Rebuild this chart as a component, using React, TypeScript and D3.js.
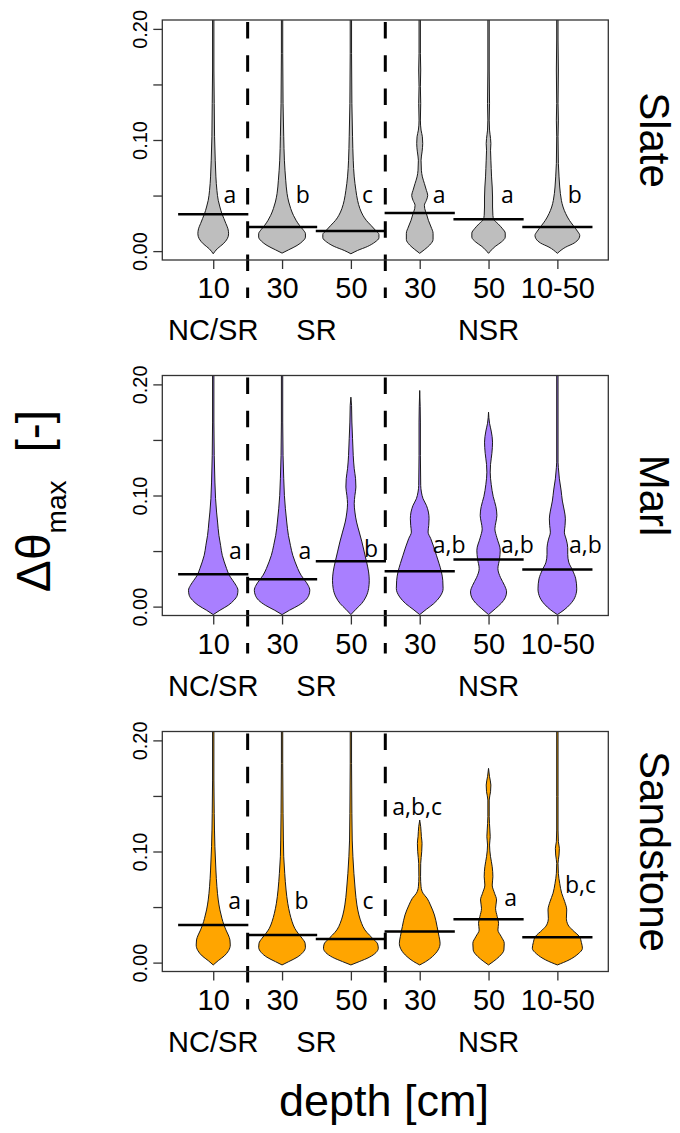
import React, { useEffect, useRef } from "react";
import * as d3 from "d3";

// categories along the x axis (depth) and their treatment groups
const depths = ["10", "30", "50", "30", "50", "10-50"];
const groups = ["NC/SR", "SR", "NSR"];
const groupPos = [1, 2.5, 5];
const dividers = [1.5, 3.5];

const yTicks = [0, 0.05, 0.1, 0.15, 0.2];
const yLabelled = [0, 0.1, 0.2];

const rocks = ["Slate", "Marl", "Sandstone"];
const rockColors = ["#bebebe", "#a97fff", "#ffa500"];

// medians per depth
const slateMedians = [0.0331, 0.0217, 0.018, 0.0343, 0.0286, 0.0217];
const marlMedians = [0.0291, 0.0246, 0.0408, 0.0318, 0.0423, 0.0333];
const sandstoneMedians = [0.0339, 0.0249, 0.0212, 0.0279, 0.0391, 0.0228];

// significance letters
const slateLetters = ["a", "b", "c", "a", "a", "b"];
const slateLetterY = [0.043, 0.043, 0.043, 0.043, 0.043, 0.043];
const slateLetterDx = [0.15, 0.2, 0.16, 0.19, 0.18, 0.15];
const marlLetters = ["a", "a", "b", "a,b", "a,b", "a,b"];
const marlLetterY = [0.043, 0.043, 0.045, 0.048, 0.048, 0.048];
const marlLetterDx = [0.23, 0.24, 0.19, 0.19, 0.18, 0.17];
const sandstoneLetters = ["a", "b", "c", "a,b,c", "a", "b,c"];
const sandstoneLetterY = [0.048, 0.048, 0.048, 0.133, 0.051, 0.063];
const sandstoneLetterDx = [0.22, 0.18, 0.17, -0.4, 0.23, 0.11];

// violin profiles: [value, density]
const slateViolins: number[][][] = [
  [[-0.0024, 0], [0.0021, 12], [0.0066, 30], [0.0111, 42], [0.0156, 46], [0.0201, 44], [0.0247, 38], [0.0292, 32], [0.0337, 26], [0.0397, 20], [0.0457, 15], [0.0547, 11], [0.0668, 8], [0.0818, 6], [0.1029, 4], [0.1329, 3], [0.163, 2], [0.22, 2]],
  [[-0.0018, 0], [0.0012, 20], [0.0051, 45], [0.009, 62], [0.0126, 70], [0.0156, 70], [0.0192, 63], [0.0232, 52], [0.0277, 42], [0.0322, 34], [0.0382, 26], [0.0442, 20], [0.0517, 15], [0.0638, 11], [0.0818, 7], [0.1029, 5], [0.1329, 3], [0.178, 2], [0.22, 2]],
  [[-0.0024, 0], [0.0006, 20], [0.0042, 50], [0.0081, 72], [0.012, 84], [0.015, 84], [0.0186, 74], [0.0232, 60], [0.0277, 46], [0.0322, 36], [0.0382, 27], [0.0457, 20], [0.0547, 15], [0.0668, 10], [0.0818, 7], [0.1029, 5], [0.1329, 3], [0.178, 2], [0.22, 2]],
  [[-0.002, 0], [0.0015, 15], [0.0055, 30], [0.0105, 40], [0.016, 40], [0.0217, 34], [0.0277, 26], [0.0337, 20], [0.0382, 15], [0.0412, 14], [0.0457, 20], [0.0502, 24], [0.0547, 20], [0.0608, 14], [0.0668, 8], [0.0728, 5], [0.0818, 4], [0.0893, 7], [0.0968, 9], [0.1029, 8], [0.1089, 4], [0.1179, 2], [0.1329, 3], [0.148, 2], [0.163, 3], [0.178, 2], [0.22, 2]],
  [[-0.002, 0], [0.0042, 20], [0.0081, 38], [0.0126, 50], [0.0162, 50], [0.0201, 42], [0.0247, 28], [0.0283, 16], [0.0322, 13], [0.0397, 12], [0.0487, 12], [0.0577, 11], [0.0668, 9], [0.0743, 8], [0.0818, 7], [0.0908, 6], [0.0968, 7], [0.1014, 6], [0.1089, 3], [0.1179, 2], [0.1329, 3], [0.163, 2], [0.22, 2]],
  [[-0.002, 0], [0.0036, 25], [0.0072, 50], [0.0111, 64], [0.0141, 67], [0.018, 60], [0.0232, 47], [0.0277, 36], [0.0337, 25], [0.0397, 17], [0.0457, 12], [0.0517, 9], [0.0577, 7], [0.0668, 5], [0.0788, 3], [0.1029, 2], [0.1179, 3], [0.1329, 2], [0.163, 3], [0.19, 2], [0.22, 2]],
];

const marlViolins: number[][][] = [
  [[-0.0072, 0], [-0.0033, 20], [0.0012, 45], [0.0057, 62], [0.0102, 72], [0.0147, 74], [0.0192, 68], [0.0237, 58], [0.0282, 48], [0.0342, 40], [0.0402, 33], [0.0462, 27], [0.0552, 22], [0.0641, 17], [0.0761, 13], [0.0851, 10], [0.0971, 7], [0.1121, 5], [0.1361, 3], [0.1661, 2], [0.22, 2]],
  [[-0.0072, 0], [-0.0033, 22], [0.0012, 50], [0.0057, 70], [0.0102, 80], [0.0147, 83], [0.0192, 78], [0.0237, 68], [0.0282, 57], [0.0342, 47], [0.0402, 39], [0.0462, 32], [0.0552, 25], [0.0641, 19], [0.0761, 14], [0.0881, 10], [0.1001, 7], [0.1151, 5], [0.1361, 3], [0.1661, 2], [0.22, 2]],
  [[-0.0072, 0], [-0.0024, 15], [0.0027, 32], [0.0087, 45], [0.0162, 53], [0.0237, 55], [0.0312, 53], [0.0402, 47], [0.0492, 40], [0.0582, 33], [0.0671, 25], [0.0761, 17], [0.0851, 12], [0.0926, 10], [0.1001, 12], [0.1076, 15], [0.1151, 14], [0.1241, 10], [0.1361, 7], [0.1511, 5], [0.1661, 3], [0.1811, 2], [0.1885, 0]],
  [[-0.0072, 0], [-0.0024, 20], [0.0027, 42], [0.0087, 60], [0.0162, 70], [0.0237, 69], [0.0312, 65], [0.0387, 58], [0.0462, 50], [0.0537, 42], [0.0612, 33], [0.0671, 25], [0.0731, 27], [0.0791, 28], [0.0851, 26], [0.0911, 20], [0.0971, 10], [0.1031, 5], [0.1091, 3], [0.1361, 2], [0.1661, 2], [0.1945, 0]],
  [[-0.0072, 0], [-0.002, 20], [0.003, 38], [0.008, 50], [0.0132, 54], [0.019, 48], [0.026, 36], [0.0342, 28], [0.043, 33], [0.0507, 35], [0.062, 25], [0.07, 19], [0.076, 22], [0.082, 25], [0.09, 22], [0.099, 14], [0.11, 8], [0.121, 5], [0.128, 6], [0.138, 10], [0.148, 12], [0.158, 8], [0.165, 3], [0.175, 0]],
  [[-0.0072, 0], [-0.003, 20], [0.002, 38], [0.008, 52], [0.016, 58], [0.025, 55], [0.033, 45], [0.04, 34], [0.047, 31], [0.053, 31], [0.06, 27], [0.067, 21], [0.073, 23], [0.079, 24], [0.086, 21], [0.095, 15], [0.105, 11], [0.115, 6], [0.125, 3], [0.13, 2], [0.22, 2]],
];

const sandstoneViolins: number[][][] = [
  [[-0.0021, 0], [0.0018, 15], [0.006, 33], [0.0108, 46], [0.0159, 51], [0.0204, 50], [0.0249, 45], [0.0294, 38], [0.0339, 32], [0.0399, 26], [0.0474, 20], [0.0564, 15], [0.0683, 11], [0.0833, 8], [0.1043, 5], [0.1343, 3], [0.1643, 2], [0.22, 2]],
  [[-0.0021, 0], [0.0009, 20], [0.0048, 45], [0.009, 62], [0.0138, 70], [0.0174, 69], [0.0219, 60], [0.0264, 48], [0.0309, 38], [0.0369, 30], [0.0444, 23], [0.0534, 17], [0.0653, 12], [0.0803, 8], [0.0953, 5], [0.1103, 4], [0.1343, 3], [0.1793, 2], [0.22, 2]],
  [[-0.0021, 0], [0.0009, 25], [0.0048, 55], [0.009, 75], [0.0129, 82], [0.0168, 80], [0.0204, 70], [0.0249, 55], [0.0294, 42], [0.0354, 32], [0.0429, 24], [0.0519, 18], [0.0653, 13], [0.0803, 9], [0.0953, 6], [0.1103, 4], [0.1343, 3], [0.1793, 2], [0.22, 2]],
  [[-0.0021, 0], [0.0009, 18], [0.0054, 38], [0.0114, 55], [0.0174, 61], [0.0234, 58], [0.0324, 52], [0.0429, 44], [0.0519, 32], [0.0579, 22], [0.0624, 10], [0.0683, 4], [0.0773, 2.5], [0.0893, 3], [0.0998, 6], [0.1073, 7], [0.1133, 5], [0.1223, 3], [0.1283, 0]],
  [[-0.0021, 0], [0.0009, 14], [0.0054, 32], [0.0114, 46], [0.0174, 47], [0.0234, 38], [0.0294, 28], [0.0354, 30], [0.0414, 26], [0.0489, 21], [0.0564, 24], [0.0624, 18], [0.0698, 11], [0.0773, 13], [0.0863, 11], [0.0953, 6], [0.1058, 3], [0.1133, 5], [0.1193, 4], [0.1313, 2], [0.1463, 2], [0.1538, 6], [0.1598, 7], [0.1673, 3], [0.1748, 0]],
  [[-0.0021, 0], [0.0024, 35], [0.0078, 62], [0.0129, 75], [0.018, 72], [0.0234, 66], [0.0294, 45], [0.0339, 32], [0.0399, 27], [0.0474, 28], [0.0549, 22], [0.0624, 13], [0.0713, 7], [0.0803, 3], [0.0893, 2], [0.0968, 5], [0.1028, 6], [0.1088, 3], [0.1193, 2], [0.1493, 2], [0.22, 2]],
];

const panels = [
  { violins: slateViolins, medians: slateMedians, letters: slateLetters, letterY: slateLetterY, letterDx: slateLetterDx },
  { violins: marlViolins, medians: marlMedians, letters: marlLetters, letterY: marlLetterY, letterDx: marlLetterDx },
  { violins: sandstoneViolins, medians: sandstoneMedians, letters: sandstoneLetters, letterY: sandstoneLetterY, letterDx: sandstoneLetterDx },
];

const App: React.FC = () => {
  const svgRef = useRef<SVGSVGElement | null>(null);

  useEffect(() => {
    const width = 680;
    const height = 1133;
    const left = 162.3;
    const right = 608.3;
    const panelTops = [20, 375.5, 731.5];
    const panelH = 240;
    const sans = "'Liberation Sans', Arial, Helvetica, sans-serif";

    const root = d3.select(svgRef.current).attr("width", width).attr("height", height);
    root.selectAll("*").remove();
    const svg = root.append("g");
    const defs = svg.append("defs");

    const x = d3.scaleLinear().domain([0.26, 6.74]).range([left, right]);
    // density -> half width in category units
    const dens = d3.scaleLinear().domain([0, 206]).range([0, 1]);

    panels.forEach((p, i) => {
      const top = panelTops[i];
      const bottom = top + panelH;
      const y = d3.scaleLinear().domain([-0.008, 0.208]).range([bottom, top]);

      defs.append("clipPath")
        .attr("id", `clip-${i}`)
        .append("rect")
        .attr("x", left)
        .attr("y", top)
        .attr("width", right - left)
        .attr("height", panelH);

      const g = svg.append("g");

      // violins
      const vg = g.append("g").attr("clip-path", `url(#clip-${i})`);
      p.violins.forEach((prof, j) => {
        const c = j + 1;
        const area = d3
          .area<number[]>()
          .y((d) => y(d[0]))
          .x0((d) => x(c - dens(d[1])))
          .x1((d) => x(c + dens(d[1])))
          .curve(d3.curveMonotoneY);
        vg.append("path")
          .datum(prof)
          .attr("d", area)
          .attr("fill", rockColors[i])
          .attr("stroke", "#1a1a1a")
          .attr("stroke-width", 1);
      });

      // medians
      g.selectAll(".median")
        .data(p.medians)
        .enter()
        .append("line")
        .attr("x1", (_d, j) => x(j + 1 - 0.51))
        .attr("x2", (_d, j) => x(j + 1 + 0.51))
        .attr("y1", (d) => y(d))
        .attr("y2", (d) => y(d))
        .attr("stroke", "#000")
        .attr("stroke-width", 2.5);

      // group dividers
      g.selectAll(".divider")
        .data(dividers)
        .enter()
        .append("line")
        .attr("x1", (d) => x(d))
        .attr("x2", (d) => x(d))
        .attr("y1", top + 2)
        .attr("y2", bottom + 38)
        .attr("stroke", "#000")
        .attr("stroke-width", 3)
        .attr("stroke-dasharray", "16.6 16.6");

      // letters
      g.selectAll(".letter")
        .data(p.letters)
        .enter()
        .append("text")
        .attr("x", (_d, j) => x(j + 1 + p.letterDx[j]))
        .attr("y", (_d, j) => y(p.letterY[j]))
        .attr("font-family", "'Open Sans', sans-serif")
        .attr("font-size", 23)
        .attr("fill", "#000")
        .text((d) => d);

      // box
      g.append("rect")
        .attr("x", left)
        .attr("y", top)
        .attr("width", right - left)
        .attr("height", panelH)
        .attr("fill", "none")
        .attr("stroke", "#333")
        .attr("stroke-width", 1.3);

      // y axis
      const yAxis = g
        .append("g")
        .attr("transform", `translate(${left},0)`)
        .call(
          d3
            .axisLeft(y)
            .tickValues(yTicks)
            .tickSize(9)
            .tickFormat((d) => (yLabelled.includes(+d) ? d3.format(".2f")(+d) : ""))
        );
      yAxis.select(".domain").remove();
      yAxis.selectAll("line").attr("stroke", "#333").attr("stroke-width", 1.3);
      yAxis
        .selectAll("text")
        .attr("x", null)
        .attr("dy", null)
        .attr("transform", "translate(-15,0) rotate(-90)")
        .attr("text-anchor", "middle")
        .attr("font-family", sans)
        .attr("font-size", 20)
        .attr("fill", "#000");

      // x axis
      const xAxis = g
        .append("g")
        .attr("transform", `translate(0,${bottom})`)
        .call(
          d3
            .axisBottom(x)
            .tickValues(depths.map((_d, j) => j + 1))
            .tickSize(9)
            .tickFormat((d) => depths[+d - 1])
        );
      xAxis.select(".domain").remove();
      xAxis.selectAll("line").attr("stroke", "#333").attr("stroke-width", 1.3);
      xAxis
        .selectAll("text")
        .attr("y", 38)
        .attr("dy", null)
        .attr("font-family", sans)
        .attr("font-size", 29)
        .attr("fill", "#000");

      // treatment group labels
      g.selectAll(".group")
        .data(groups)
        .enter()
        .append("text")
        .attr("x", (_d, k) => x(groupPos[k]))
        .attr("y", bottom + 80)
        .attr("text-anchor", "middle")
        .attr("font-family", sans)
        .attr("font-size", 29)
        .text((d) => d);

      // rock type title
      g.append("text")
        .attr("transform", `translate(640,${top + panelH / 2}) rotate(90)`)
        .attr("text-anchor", "middle")
        .attr("font-family", sans)
        .attr("font-size", 42)
        .text(rocks[i]);
    });

    // y axis title
    const yt = svg
      .append("text")
      .attr("transform", "translate(50,501) rotate(-90)")
      .attr("text-anchor", "middle")
      .attr("font-family", sans)
      .attr("font-size", 48);
    yt.append("tspan").text("Δθ");
    yt.append("tspan").attr("font-size", 28).attr("dy", 16).text("max");
    yt.append("tspan").attr("dy", -16).attr("dx", 28).text("[-]");

    // x axis title
    svg
      .append("text")
      .attr("x", 384)
      .attr("y", 1116)
      .attr("text-anchor", "middle")
      .attr("font-family", sans)
      .attr("font-size", 45)
      .text("depth [cm]");

    return () => {
      d3.select(svgRef.current).selectAll("*").remove();
    };
  }, []);

  return (
    <div style={{ position: "absolute", left: 0, top: 0, background: "#fff" }}>
      <svg ref={svgRef} style={{ display: "block" }}></svg>
    </div>
  );
};

export default App;
